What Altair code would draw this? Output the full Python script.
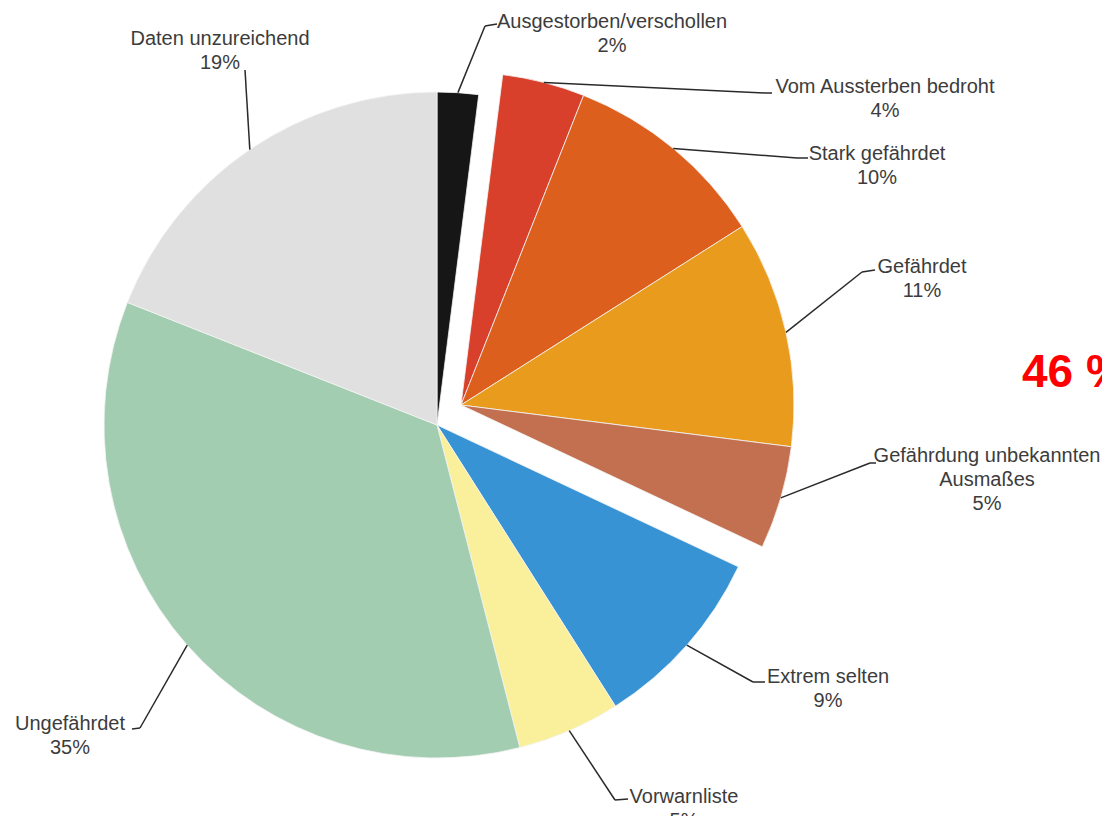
import altair as alt
import pandas as pd

# ---- data ----
categories = ["Ausgestorben/verschollen", "Vom Aussterben bedroht", "Stark gefährdet", "Gefährdet",
              "Gefährdung unbekannten Ausmaßes", "Extrem selten", "Vorwarnliste", "Ungefährdet",
              "Daten unzureichend"]
values = [2, 4, 10, 11, 5, 9, 5, 35, 19]
exploded = [0, 1, 1, 1, 1, 0, 0, 0, 0]
label_names = ["Ausgestorben/verschollen", "Vom Aussterben bedroht", "Stark gefährdet", "Gefährdet",
               "Gefährdung unbekannten\nAusmaßes", "Extrem selten", "Vorwarnliste", "Ungefährdet",
               "Daten unzureichend"]
note_text = ["46 %"]

# ---- styles ----
colors = ["#161616", "#d8402b", "#dc5f1d", "#e99b1d", "#c27050", "#3893d4", "#faf09b", "#a3cdb1", "#e1e0e0"]

# ---- layout (pixels inside the 1094x808 view) ----
CX, CY, R = 429, 417, 333
EXPLODE_DX, EXPLODE_DY = 24, -20
label_x = [604, 877, 869, 914, 979, 820, 676, 62, 212]
label_y = [20, 85, 152, 265, 454, 675, 795, 722, 37]
elbow_x = [477, 757, 789, 854, 862, 745, 607, 132, 237]
elbow_y = [18, 85, 150, 264, 455, 674, 792, 720, 62]
end_x = [489, 764, 800, 867, 868, 757, 620, 124, 237]
end_y = [16, 85, 150, 262, 455, 674, 791, 721, 62]

df = pd.DataFrame({
    "category": categories,
    "value": values,
    "exploded": exploded,
    "name": label_names,
    "order": list(range(len(categories))),
    "lx": label_x, "ly": label_y,
    "ex": elbow_x, "ey": elbow_y,
    "nx": end_x, "ny": end_y,
})

base = (
    alt.Chart(df)
    .transform_window(cum="sum(value)", sort=[alt.SortField("order")], frame=[None, 0])
    .transform_joinaggregate(total="sum(value)")
    .transform_calculate(t0="2*PI*(datum.cum - datum.value)/datum.total")
    .transform_calculate(t1="2*PI*datum.cum/datum.total")
    .transform_calculate(tm="(datum.t0 + datum.t1)/2")
    .transform_calculate(cx=f"{CX} + datum.exploded*{EXPLODE_DX}")
    .transform_calculate(cy=f"{CY} + datum.exploded*{EXPLODE_DY}")
    .transform_calculate(sx=f"datum.cx + {R}*sin(datum.tm)")
    .transform_calculate(sy=f"datum.cy - {R}*cos(datum.tm)")
    .transform_calculate(pct="datum.name + '\\n' + datum.value + '%'")
)

arcs = base.mark_arc(outerRadius=R, stroke="#f4f4f4", strokeWidth=0.8).encode(
    x=alt.X("cx:Q", scale=None, axis=None),
    y=alt.Y("cy:Q", scale=None, axis=None),
    theta=alt.Theta("t0:Q", scale=None),
    theta2="t1:Q",
    color=alt.Color("category:N", scale=alt.Scale(domain=categories, range=colors), legend=None),
)

lead1 = base.mark_rule(color="#2a2a2a", strokeWidth=1.5).encode(
    x=alt.X("sx:Q", scale=None, axis=None),
    y=alt.Y("sy:Q", scale=None, axis=None),
    x2="ex:Q", y2="ey:Q",
)
lead2 = base.mark_rule(color="#2a2a2a", strokeWidth=1.5).encode(
    x=alt.X("ex:Q", scale=None, axis=None),
    y=alt.Y("ey:Q", scale=None, axis=None),
    x2="nx:Q", y2="ny:Q",
)

labels = base.mark_text(font="Liberation Sans", fontSize=20, color="#3c3c3c", align="center",
                        baseline="alphabetic", lineBreak="\n", lineHeight=24).encode(
    x=alt.X("lx:Q", scale=None, axis=None),
    y=alt.Y("ly:Q", scale=None, axis=None),
    text="pct:N",
)

note = alt.Chart(pd.DataFrame({"t": note_text})).mark_text(
    font="Liberation Sans", fontSize=46, fontWeight="bold", color="#ff0000",
    align="left", baseline="alphabetic").encode(
    x=alt.value(1014), y=alt.value(379), text="t:N")

chart = alt.layer(arcs, lead1, lead2, labels, note).properties(
    width=1094, height=808, padding=0,
    autosize=alt.AutoSizeParams(type="none"),
    background="white",
).configure_view(stroke=None)

chart.save("out.html", embed_options={"renderer": "svg", "actions": False})
